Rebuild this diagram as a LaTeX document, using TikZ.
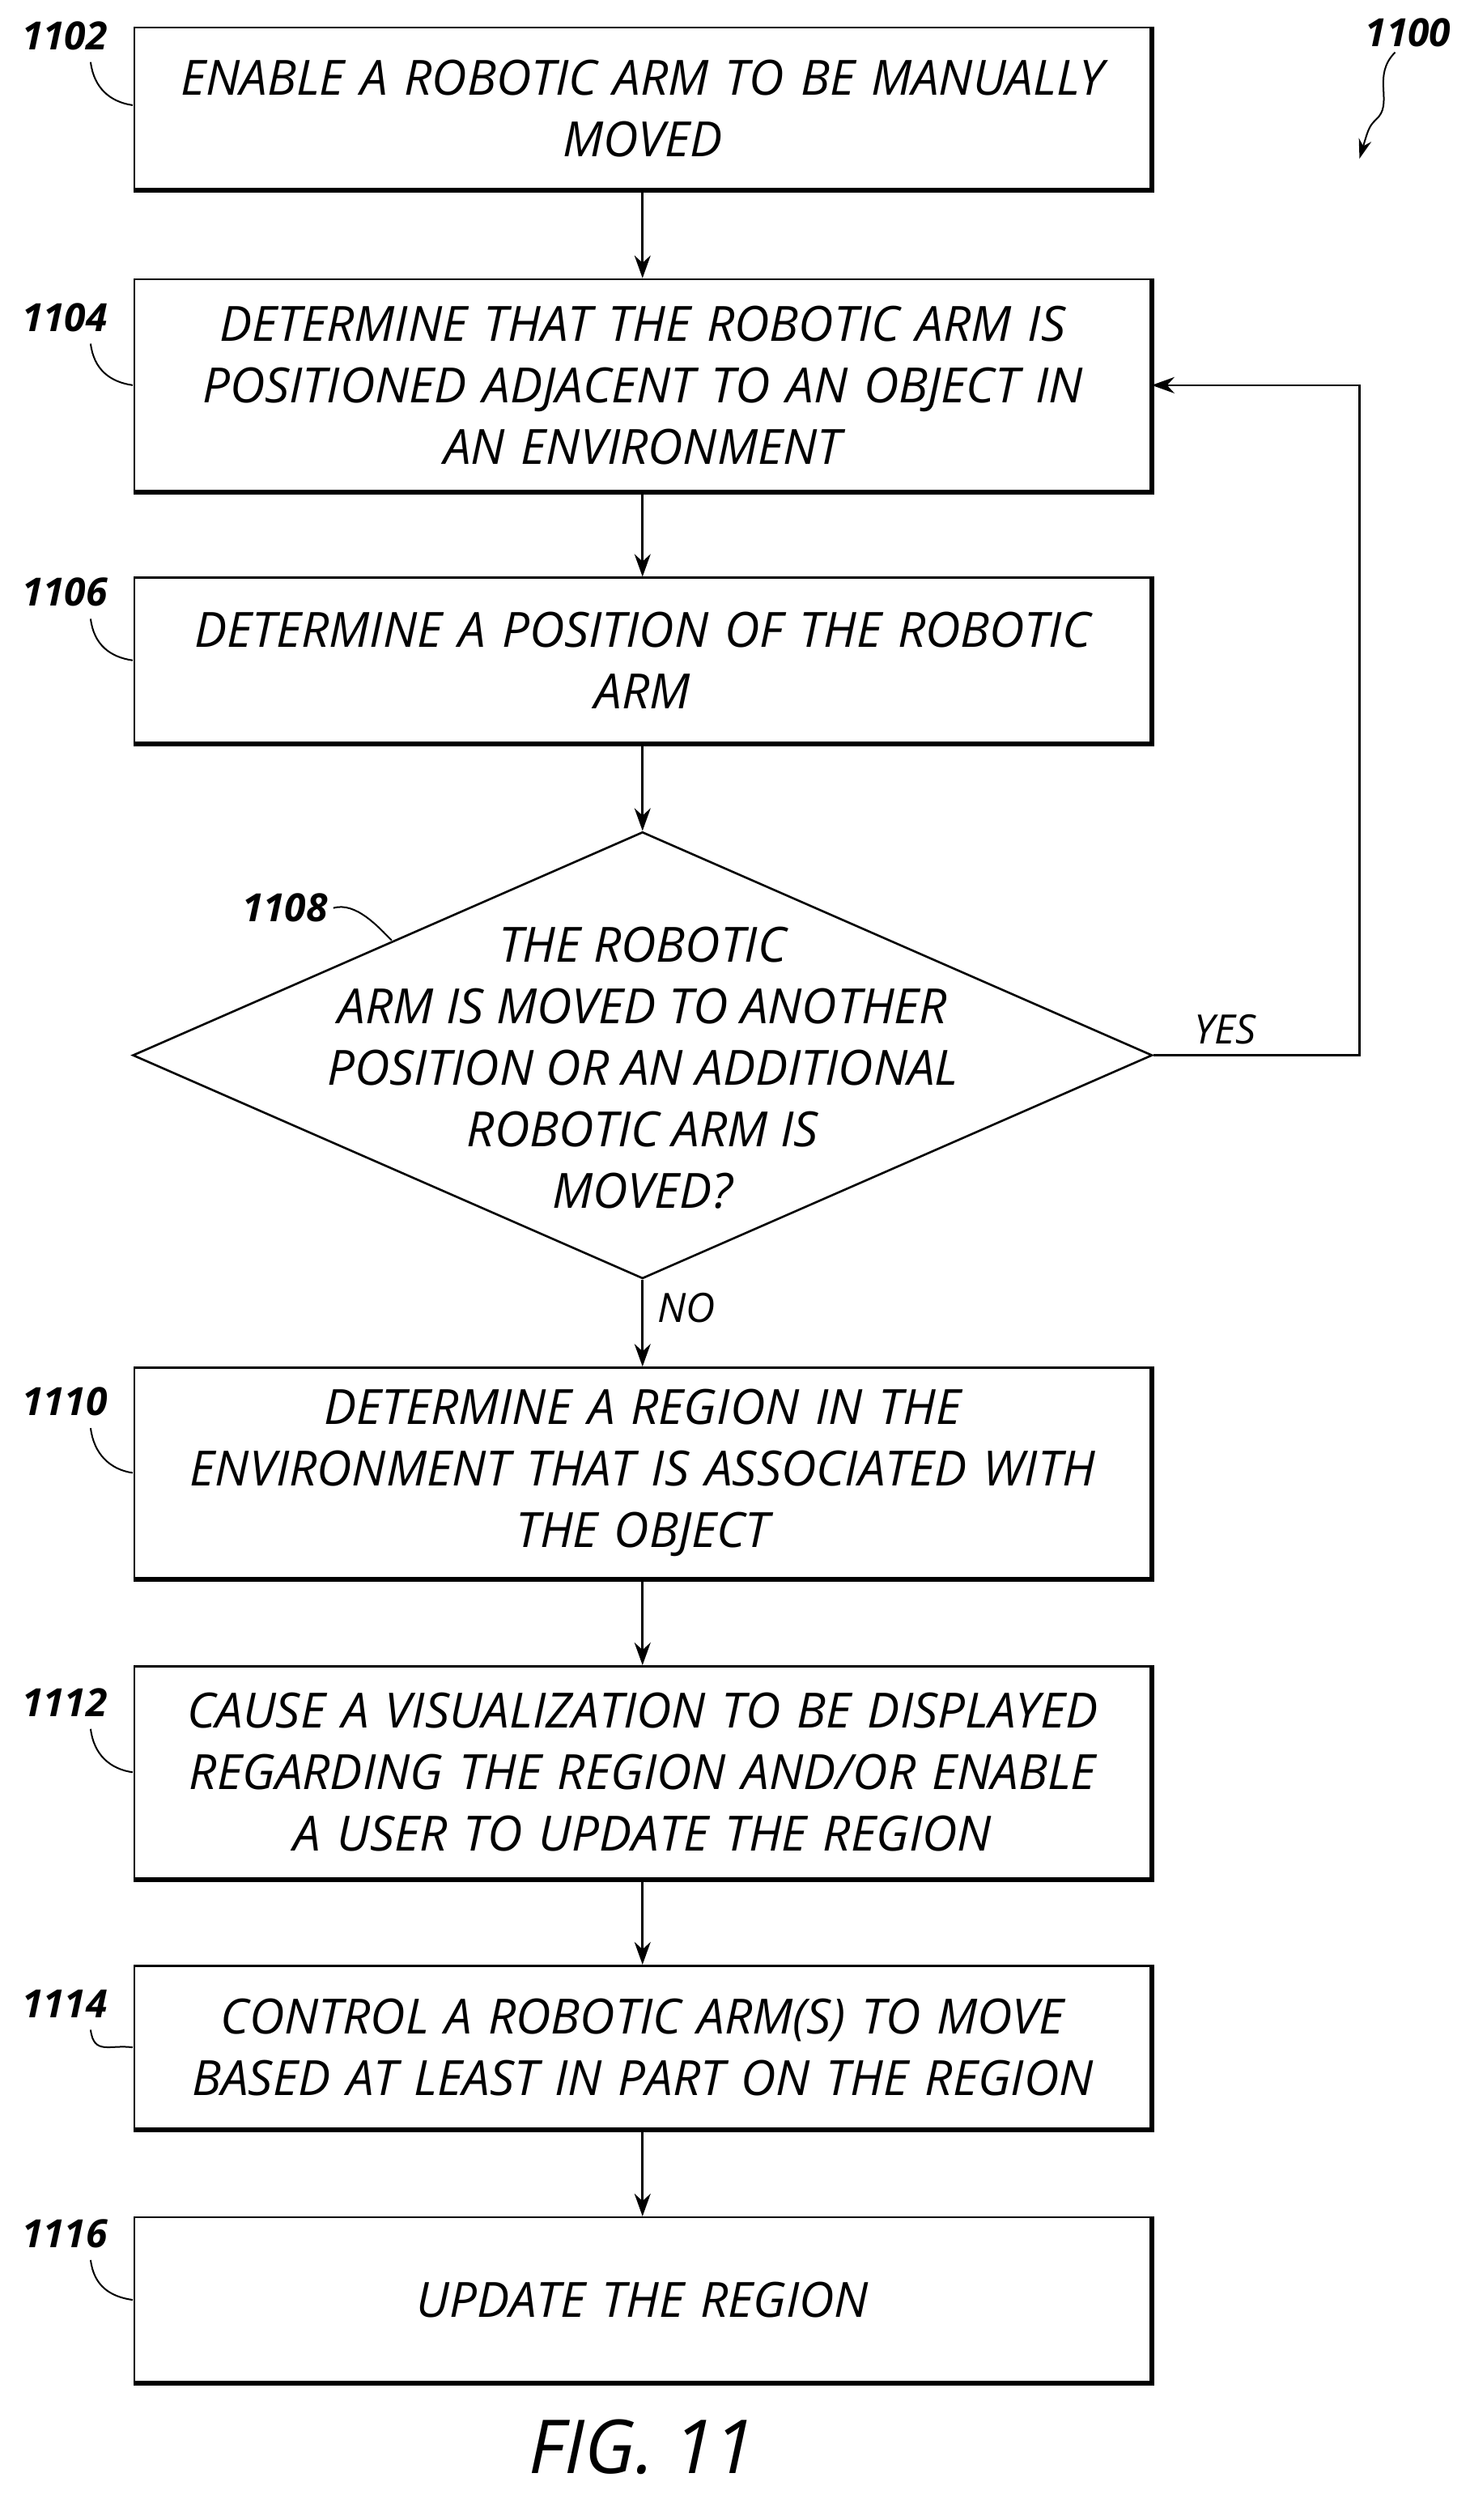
\documentclass[tikz,border=0pt]{standalone}
\usepackage{fontspec}
\setmainfont{Open Sans}
\usetikzlibrary{arrows.meta,shapes.geometric}
\begin{document}
\begin{tikzpicture}[x=1pt,y=-1pt,
  txt/.style={font=\fontsize{30}{38}\selectfont\itshape},
  box/.style={draw,line width=1.3pt,minimum width=628pt,inner sep=0pt,align=center,txt,text width=620pt},
  lab/.style={font=\fontsize{24}{28}\selectfont\bfseries\itshape},
  arr/.style={line width=1.3pt,-{Stealth[length=14pt,width=10pt]}},
  lead/.style={line width=1pt}]
\useasboundingbox (0,0) rectangle (908,1557);
\newcommand{\shadowbox}[1]{\draw[line width=3pt] (#1.south west)--(#1.south east)--(#1.north east);}
\node[box,minimum height=100pt] (b1) at (397,67) {ENABLE A ROBOTIC ARM TO BE MANUALLY\\MOVED};
\node[box,minimum height=131pt] (b2) at (397,238) {DETERMINE THAT THE ROBOTIC ARM IS\\POSITIONED ADJACENT TO AN OBJECT IN\\AN ENVIRONMENT};
\node[box,minimum height=102pt] (b3) at (397,408) {DETERMINE A POSITION OF THE ROBOTIC\\ARM};
\node[draw,line width=1.3pt,diamond,minimum width=630pt,minimum height=276pt,inner sep=0pt] (d) at (397,652) {};
\node[txt,align=center] at (397,660) {THE ROBOTIC\\ARM IS MOVED TO ANOTHER\\POSITION OR AN ADDITIONAL\\ROBOTIC ARM IS\\MOVED?};
\node[box,minimum height=130pt] (b4) at (397,910) {DETERMINE A REGION IN THE\\ENVIRONMENT THAT IS ASSOCIATED WITH\\THE OBJECT};
\node[box,minimum height=131pt] (b5) at (397,1095) {CAUSE A VISUALIZATION TO BE DISPLAYED\\REGARDING THE REGION AND/OR ENABLE\\A USER TO UPDATE THE REGION};
\node[box,minimum height=101pt] (b6) at (397,1265) {CONTROL A ROBOTIC ARM(S) TO MOVE\\BASED AT LEAST IN PART ON THE REGION};
\node[box,minimum height=102pt] (b7) at (397,1421) {UPDATE THE REGION};
\foreach \b in {b1,b2,b3,b4,b5,b6,b7}{\shadowbox{\b}}
\draw[arr] (b1)--(b2);
\draw[arr] (b2)--(b3);
\draw[arr] (b3)--(d.north);
\draw[arr] (d.south)--(b4);
\draw[arr] (b4)--(b5);
\draw[arr] (b5)--(b6);
\draw[arr] (b6)--(b7);
\coordinate (c1) at (840,652);
\coordinate (c2) at (840,238);
\draw[arr] (d.east)--(c1)--(c2)--(b2.east);
\node[font=\fontsize{25}{28}\selectfont\itshape] (yes) at (757,636) {YES};
\node[font=\fontsize{25}{28}\selectfont\itshape] (no) at (424,808) {NO};
\node[font=\fontsize{46}{50}\selectfont\itshape] (fig) at (397,1512) {FIG. 11};
\foreach \n/\y/\t/\e in {l1/22/1102/65,l2/196/1104/238,l4/366/1106/408,l5/866/1110/910,l6/1052/1112/1095,l7/1238/1114/1265,l8/1380/1116/1421}{
  \node[lab] (\n) at (40,\y) {\t};
  \coordinate (\n e) at (82,\e);
  \draw[lead] ([xshift=16pt,yshift=-4pt]\n.south) .. controls +(2,16) and +(-14,-2) .. (\n e);}
\node[lab] (l3) at (176,561) {1108};
\coordinate (l3e) at (242,581);
\draw[lead] (l3.east) .. controls +(14,-4) and +(-8,-8) .. (l3e);
\node[lab] (l0) at (870,20) {1100};
\coordinate (a0) at (840,98);
\draw[lead,-{Stealth[length=12pt,width=8pt]}] ([xshift=-8pt]l0.south) .. controls +(-14,14) and +(8,-10) .. (852,72) .. controls +(-6,6) .. (a0);
\end{tikzpicture}
\end{document}
